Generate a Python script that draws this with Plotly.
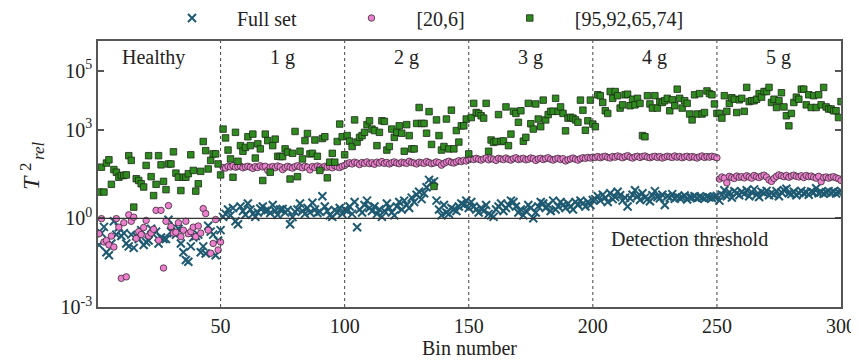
import plotly.graph_objects as go

# ---------------- data (log10 of T^2_rel, one value per bin) ----------------
bins = list(range(1, 301))

full_set_log10 = [
    # Healthy 1-50
    -0.90, -0.50, -0.29, -1.15, -1.25, -0.85, -0.10, -0.55, -0.30, -0.60,
    -0.50, -0.85, -0.95, -0.55, -1.00, -0.60, -0.70, -0.40, -0.90, -0.80,
    -0.75, -0.35, -0.55, -0.45, -0.85, -0.65, -0.70, -0.70, -0.05, -0.45,
    -0.50, -0.55, -0.35, -0.85, -1.15, -1.41, -1.47, -0.95, -0.65, -0.60,
    -0.55, -1.15, -0.95, -1.19, -0.25, -0.45, -0.55, -1.25, -0.75, -0.40,
    # 1 g 51-100
    0.05, 0.15, 0.30, 0.10, 0.35, -0.10, -0.20, 0.40, 0.25, 0.12,
    0.50, 0.30, 0.15, 0.05, 0.20, 0.33, 0.40, 0.25, 0.28, 0.18,
    0.45, 0.25, 0.12, 0.30, 0.32, 0.20, 0.28, -0.20, 0.04, 0.22,
    0.30, 0.50, 0.25, 0.15, 0.35, 0.20, 0.53, 0.30, 0.18, 0.22,
    0.75, 0.40, 0.25, 0.10, 0.05, 0.28, 0.20, 0.35, 0.15, 0.30,
    # 2 g 101-150
    0.25, 0.40, 0.15, 0.55, -0.30, 0.30, 0.20, 0.45, 0.60, 0.35,
    0.25, 0.40, 0.15, 0.30, 0.05, 0.25, 0.50, 0.35, 0.20, 0.10,
    0.40, 0.55, 0.30, 0.60, 0.45, 0.35, 0.70, 0.55, 0.80, 0.90,
    0.65, 0.85, 1.05, 1.30, 1.20, 1.25, 0.60, 0.30, 0.10, 0.45,
    0.20, 0.15, 0.35, 0.30, 0.25, 0.40, 0.50, 0.45, 0.60, 0.35,
    # 3 g 151-200
    0.55, 0.40, 0.30, 0.20, 0.35, 0.25, 0.45, 0.15, 0.10, 0.05,
    0.30, 0.40, 0.50, 0.25, 0.35, 0.45, 0.60, 0.55, 0.40, 0.20,
    0.30, 0.10, 0.25, 0.45, 0.35, 0.00, 0.20, 0.40, 0.55, 0.50,
    0.35, 0.45, 0.25, 0.60, 0.30, 0.40, 0.55, 0.45, 0.35, 0.50,
    0.40, 0.30, 0.55, 0.45, 0.60, 0.50, 0.40, 0.55, 0.45, 0.62,
    # 4 g 201-250
    0.65, 0.75, 0.60, 0.80, 0.70, 0.55, 0.85, 0.65, 0.72, 0.90,
    0.78, 0.60, 0.70, 0.40, 0.68, 0.80, 0.95, 0.75, 0.62, 0.85,
    0.70, 0.65, 0.58, 0.78, 0.92, 0.72, 0.68, 0.80, 0.45, 0.75,
    0.70, 0.82, 0.66, 0.74, 0.69, 0.71, 0.77, 0.64, 0.72, 0.70,
    0.75, 0.68, 0.73, 0.70, 0.66, 0.74, 0.71, 0.69, 0.72, 0.76,
    # 5 g 251-300
    0.60, 0.80, 0.95, 0.75, 0.88, 0.70, 0.92, 0.85, 0.78, 0.90,
    0.82, 0.95, 0.75, 0.88, 0.98, 0.80, 0.72, 0.90, 0.85, 0.93,
    0.78, 0.86, 0.80, 0.92, 0.75, 0.88, 0.95, 1.00, 0.85, 0.82,
    0.90, 0.78, 0.86, 0.93, 0.84, 0.88, 0.80, 0.91, 0.87, 1.02,
    0.85, 0.89, 0.83, 0.88, 0.92, 0.86, 0.90, 0.84, 0.88, 0.93,
]

set_20_6_log10 = [
    # Healthy
    -0.52, -0.01, -0.80, -0.75, -0.90, -0.60, -0.97, -0.01, -0.30, -2.03,
    -0.15, -1.98, 0.12, -0.10, 0.04, -0.68, -0.45, -0.55, -0.31, -0.07,
    -0.60, -0.50, -0.37, 0.27, -0.74, 0.27, -1.68, -0.10, 0.43, -0.28,
    -0.50, -0.47, -0.15, -0.62, -0.40, -0.10, -0.52, -0.45, -0.30, -0.62,
    -0.26, -0.50, 0.33, 0.16, -0.40, -1.18, -0.85, -0.04, -1.07, -0.80,
    # 1 g
    1.72, 1.70, 1.76, 1.74, 1.78, 1.73, 1.75, 1.77, 1.71, 1.74,
    1.76, 1.73, 1.69, 1.75, 1.72, 1.78, 1.74, 1.76, 1.62, 1.73,
    1.75, 1.71, 1.77, 1.74, 1.65, 1.72, 1.76, 1.73, 1.70, 1.75,
    1.78, 1.74, 1.71, 1.76, 1.73, 1.64, 1.75, 1.72, 1.77, 1.74,
    1.70, 1.76, 1.73, 1.75, 1.71, 1.78, 1.74, 1.72, 1.76, 1.79,
    # 2 g
    1.85, 1.88, 1.84, 1.90, 1.87, 1.82, 1.89, 1.86, 1.91, 1.85,
    1.88, 1.83, 1.90, 1.87, 1.92, 1.86, 1.89, 1.84, 1.88, 1.91,
    1.87, 1.85, 1.90, 1.88, 1.86, 1.93, 1.89, 1.87, 1.84, 1.90,
    1.88, 1.86, 1.92, 1.89, 1.85, 1.87, 1.91, 1.88, 1.80, 1.86,
    1.90, 1.93, 1.89, 1.87, 1.91, 1.95, 1.92, 1.96, 1.94, 1.98,
    # 3 g
    2.02, 1.99, 2.03, 2.00, 1.97, 2.01, 2.04, 1.98, 2.02, 2.00,
    1.96, 2.03, 2.01, 1.99, 2.04, 2.00, 1.97, 2.02, 2.05, 1.99,
    2.01, 2.03, 1.98, 2.00, 2.04, 2.02, 1.96, 2.01, 2.03, 1.99,
    2.02, 2.05, 2.00, 1.97, 2.01, 2.03, 1.99, 2.02, 1.94, 1.98,
    2.01, 2.04, 2.00, 1.97, 2.02, 2.05, 2.03, 2.06, 2.04, 2.07,
    # 4 g
    2.06, 2.09, 2.05, 2.08, 2.10, 2.06, 2.04, 2.09, 2.07, 2.11,
    2.08, 2.05, 2.09, 2.12, 2.07, 2.04, 2.08, 2.10, 2.06, 2.09,
    2.11, 2.07, 2.05, 2.08, 2.10, 2.06, 2.09, 2.04, 2.07, 2.10,
    2.08, 2.06, 2.11, 2.07, 2.09, 2.05, 2.08, 2.10, 2.06, 2.09,
    2.07, 2.04, 2.08, 2.11, 2.06, 2.09, 2.07, 2.10, 2.08, 2.05,
    # 5 g
    1.33, 1.40, 1.36, 1.20, 1.42, 1.38, 1.35, 1.43, 1.39, 1.41,
    1.37, 1.44, 1.40, 1.36, 1.45, 1.41, 1.38, 1.43, 1.46, 1.40,
    1.30, 1.25, 1.35, 1.42, 1.47, 1.44, 1.41, 1.45, 1.39, 1.43,
    1.46, 1.42, 1.40, 1.44, 1.38, 1.45, 1.41, 1.43, 1.39, 1.36,
    1.42, 1.24, 1.38, 1.40, 1.36, 1.39, 1.41, 1.37, 1.34, 1.28,
]

set_95_92_65_74_log10 = [
    # Healthy
    0.89, 1.73, 0.89, 1.87, 1.98, 1.15, 1.65, 1.56, 1.39, 1.45,
    1.45, 1.47, 2.12, 1.96, 0.38, 1.34, 1.28, 1.17, 1.06, 1.79,
    2.12, 1.41, 0.77, 1.15, 2.12, 1.81, 1.25, 0.97, 1.84, 1.84,
    2.25, 1.53, 1.39, 0.94, 1.39, 1.39, 1.51, 2.15, 1.62, 0.92,
    1.17, 1.59, 2.60, 2.29, 1.67, 1.96, 2.18, 2.18, 1.84, 1.47,
    # 1 g
    3.02, 2.72, 2.31, 2.01, 1.39, 2.91, 1.93, 2.46, 2.27, 2.40,
    2.76, 2.46, 2.85, 2.04, 2.52, 2.35, 1.28, 2.85, 2.63, 1.56,
    2.46, 2.68, 2.10, 2.09, 2.09, 2.35, 2.24, 1.33, 2.20, 2.94,
    1.41, 2.27, 2.01, 2.63, 2.87, 2.18, 2.20, 2.65, 2.10, 1.62,
    2.70, 2.76, 1.37, 1.90, 2.20, 1.90, 2.60, 3.19, 2.76, 2.15,
    # 2 g
    2.80, 2.61, 2.43, 3.33, 2.58, 2.74, 2.80, 2.91, 3.17, 3.30,
    3.02, 2.97, 2.46, 2.91, 3.30, 3.28, 2.31, 2.43, 3.02, 2.74,
    2.91, 3.13, 2.88, 2.27, 3.17, 2.80, 2.35, 2.35, 3.21, 3.75,
    3.21, 3.21, 2.88, 3.61, 2.50, 1.08, 3.33, 2.80, 2.31, 2.43,
    3.36, 2.35, 3.66, 2.35, 2.97, 2.58, 3.13, 3.13, 3.36, 2.18,
    # 3 g
    3.41, 3.89, 3.58, 3.55, 3.47, 3.39, 3.89, 2.27, 2.65, 2.57,
    2.60, 3.51, 2.60, 2.62, 3.77, 2.46, 2.85, 3.62, 3.55, 3.25,
    3.64, 2.61, 2.74, 3.89, 3.20, 3.02, 3.87, 3.36, 3.10, 4.00,
    3.33, 3.51, 3.62, 3.62, 4.06, 3.62, 3.77, 3.55, 2.96, 3.39,
    3.42, 3.39, 3.33, 3.25, 4.00, 3.66, 2.98, 3.30, 4.00, 3.19,
    # 4 g
    3.10, 4.18, 4.15, 3.92, 3.64, 3.55, 4.29, 4.06, 4.29, 4.15,
    3.73, 3.84, 4.18, 4.20, 3.81, 4.03, 3.84, 4.06, 3.89, 2.80,
    2.76, 4.15, 3.87, 3.73, 4.15, 3.73, 3.95, 3.92, 3.98, 4.06,
    3.64, 4.01, 3.81, 4.37, 4.06, 3.73, 3.98, 3.89, 3.53, 3.33,
    4.18, 3.53, 4.22, 3.53, 3.58, 4.31, 4.22, 4.18, 3.87, 3.55,
    # 5 g
    3.55, 3.39, 4.15, 3.62, 3.89, 4.08, 4.03, 3.58, 4.01, 4.06,
    3.62, 4.43, 3.95, 3.98, 3.98, 4.03, 4.22, 4.10, 4.29, 4.29,
    4.43, 3.92, 4.03, 3.75, 3.98, 4.25, 3.77, 3.47, 3.13, 3.55,
    3.92, 4.10, 4.03, 4.37, 4.37, 3.84, 4.18, 3.75, 4.15, 3.75,
    4.18, 3.84, 4.43, 3.77, 3.70, 3.70, 3.64, 3.64, 3.41, 3.95,
]

series_names = ["Full set", "[20,6]", "[95,92,65,74]"]
section_labels = ["Healthy", "1 g", "2 g", "3 g", "4 g", "5 g"]
section_bounds = [50, 100, 150, 200, 250]
x_tick_vals = [50, 100, 150, 200, 250, 300]
y_tick_vals = [1e-3, 1, 1e3, 1e5]
y_tick_text = ["10<sup>-3</sup>", "10<sup>0</sup>", "10<sup>3</sup>", "10<sup>5</sup>"]
threshold_value = 1.0
threshold_label = "Detection threshold"

# ---------------- figure ----------------
FONT = "Liberation Serif, Times New Roman, serif"
TXT = "#222222"
AX = "#555555"

# page offset from the default body margin of the HTML page
OFF = 8
W, H = 859 - OFF, 363 - OFF
L, R, T, B = 98 - OFF, 18, 41 - OFF, 56
pw, ph = W - L - R, H - T - B

def cx(px):  # page pixel -> container fraction
    return (px - OFF) / W

def cy(py):
    return 1 - (py - OFF) / H

def paper_x(px):  # page pixel -> paper fraction
    return (px - OFF - L) / pw

def paper_y(py):
    return (H - B - (py - OFF)) / ph

fig = go.Figure()

nb = "\u00a0"

fig.add_trace(go.Scatter(
    x=bins, y=[10 ** v for v in full_set_log10], mode="markers",
    name=nb * 5 + series_names[0] + nb * 10,
    marker=dict(symbol="x-thin", size=8, color="#1e5a72",
                line=dict(color="#1e5a72", width=2)),
))
fig.add_trace(go.Scatter(
    x=bins, y=[10 ** v for v in set_20_6_log10], mode="markers",
    name=nb * 5 + series_names[1] + nb * 8,
    marker=dict(symbol="circle", size=6.5, color="#ec80cf",
                line=dict(color="#3a2a35", width=0.8)),
))
fig.add_trace(go.Scatter(
    x=bins, y=[10 ** v for v in set_95_92_65_74_log10], mode="markers",
    name=nb * 5 + series_names[2],
    marker=dict(symbol="square", size=6.5, color="#2f8a1f",
                line=dict(color="#1c2a18", width=0.8)),
))

shapes = []
for b in section_bounds:
    shapes.append(dict(type="line", xref="x", yref="paper", x0=b, x1=b, y0=0, y1=1,
                       line=dict(color="#444444", width=1, dash="dot")))
shapes.append(dict(type="line", xref="paper", yref="y", x0=0, x1=1,
                   y0=threshold_value, y1=threshold_value,
                   line=dict(color="#333333", width=1.3)))

annotations = []
label_x = [23, 75, 125, 175, 225, 275]
for lx, lab in zip(label_x, section_labels):
    annotations.append(dict(x=lx, xref="x", y=paper_y(57), yref="paper", text=lab,
                            xanchor="center", yanchor="middle",
                            showarrow=False, font=dict(family=FONT, size=20, color=TXT)))
annotations.append(dict(x=239, xref="x", y=paper_y(239), yref="paper", text=threshold_label,
                        xanchor="center", yanchor="middle",
                        showarrow=False, font=dict(family=FONT, size=20, color=TXT)))

# Y-axis title T^2_rel with stacked superscript/subscript (rotated)
annotations.append(dict(x=paper_x(31), y=paper_y(183), xref="paper", yref="paper",
                        text="<i>T</i>", textangle=-90, showarrow=False,
                        xanchor="center", yanchor="middle",
                        font=dict(family=FONT, size=24, color=TXT)))
annotations.append(dict(x=paper_x(25), y=paper_y(167), xref="paper", yref="paper",
                        text="2", textangle=-90, showarrow=False,
                        xanchor="center", yanchor="middle",
                        font=dict(family=FONT, size=17, color=TXT)))
annotations.append(dict(x=paper_x(38), y=paper_y(151), xref="paper", yref="paper",
                        text="<i>rel</i>", textangle=-90, showarrow=False,
                        xanchor="center", yanchor="middle",
                        font=dict(family=FONT, size=17, color=TXT)))

fig.update_layout(
    width=W, height=H,
    margin=dict(l=L, r=R, t=T, b=B, autoexpand=False),
    paper_bgcolor="white", plot_bgcolor="white",
    font=dict(family=FONT, size=20, color=TXT),
    shapes=shapes, annotations=annotations,
    legend=dict(orientation="h", xref="container", yref="container",
                x=cx(172), xanchor="left", y=cy(18), yanchor="middle",
                font=dict(family=FONT, size=20, color=TXT),
                bgcolor="rgba(0,0,0,0)", itemwidth=30, tracegroupgap=0),
    xaxis=dict(range=[0.6, 300], showline=True, mirror=True, linecolor=AX, linewidth=1.5,
               showgrid=False, zeroline=False, ticks="", tickvals=x_tick_vals,
               tickfont=dict(family=FONT, size=20, color=TXT),
               title=dict(text="Bin number", font=dict(family=FONT, size=20, color=TXT), standoff=4)),
    yaxis=dict(type="log", range=[-3, 6], showline=True, mirror="allticks", linecolor=AX,
               linewidth=1.5, showgrid=False, zeroline=False, ticks="inside", ticklen=6,
               tickcolor=AX, tickwidth=1.5,
               tickvals=y_tick_vals, ticktext=y_tick_text,
               tickfont=dict(family=FONT, size=20, color=TXT)),
    showlegend=True,
)

fig.write_html("out.html")
